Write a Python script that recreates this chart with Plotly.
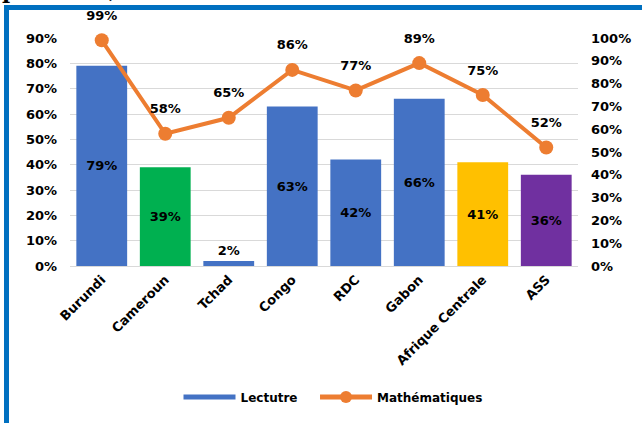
import plotly.graph_objects as go

# Data
pays = ['Burundi', 'Cameroun', 'Tchad', 'Congo', 'RDC', 'Gabon', 'Afrique Centrale', 'ASS']
lecture = [79, 39, 2, 63, 42, 66, 41, 36]
maths = [99, 58, 65, 86, 77, 89, 75, 52]
bar_colors = ['#4472C4', '#00B050', '#4472C4', '#4472C4', '#4472C4', '#4472C4', '#FFC000', '#7030A0']
bar_textpos = ['inside', 'inside', 'outside', 'inside', 'inside', 'inside', 'inside', 'inside']

W, H = 642, 423
L, R, T, B = 70, 64, 38, 157
pw, ph = W - L - R, H - T - B

def px(x):
    return (x - L) / pw

def py(y):
    return (H - B - y) / ph

bold = dict(family='DejaVu Sans', size=13, color='black', weight='bold')
bold12 = dict(family='DejaVu Sans', size=12, color='black', weight='bold')
nbsp = '\u00a0'

fig = go.Figure()

fig.add_trace(go.Bar(
    x=pays, y=lecture, name='Lectutre', showlegend=False,
    marker=dict(color=bar_colors, line=dict(width=0)),
    text=[f'{v}%' for v in lecture],
    textposition=bar_textpos,
    insidetextanchor='middle',
    textfont=bold, insidetextfont=bold, outsidetextfont=bold,
    textangle=0, cliponaxis=False,
    hoverinfo='skip', yaxis='y',
))

# legend entry for the bars (wide blue swatch)
fig.add_trace(go.Scatter(
    x=[None], y=[None], name='Lectutre' + nbsp * 3, mode='lines',
    line=dict(color='#4472C4', width=8), yaxis='y',
))

fig.add_trace(go.Scatter(
    x=pays, y=maths, name='Mathématiques',
    mode='lines+markers',
    line=dict(color='#ED7D31', width=4),
    marker=dict(color='#ED7D31', size=14),
    hoverinfo='skip', cliponaxis=False, yaxis='y2',
))

# value labels above the points (transparent markers push text up a bit)
fig.add_trace(go.Scatter(
    x=pays, y=maths, mode='markers+text', showlegend=False,
    marker=dict(size=26, opacity=0),
    text=[f'{v}%' for v in maths],
    textposition='top center', textfont=bold,
    hoverinfo='skip', cliponaxis=False, yaxis='y2',
))

fig.update_layout(
    width=W, height=H,
    margin=dict(l=L, r=R, t=T, b=B),
    paper_bgcolor='white', plot_bgcolor='white',
    font=bold,
    bargap=0.2,
    showlegend=True,
    legend=dict(orientation='h', x=px(333), xanchor='center', y=py(397), yanchor='middle',
                font=bold12, itemwidth=52, itemsizing='constant'),
    xaxis=dict(type='category', range=[-0.5, len(pays) - 0.5], tickangle=-45,
               showline=True, linecolor='#D9D9D9', linewidth=1,
               showgrid=False, ticks='', tickfont=bold),
    yaxis=dict(range=[0, 90], dtick=10, ticksuffix='%', gridcolor='#D9D9D9', gridwidth=1,
               zeroline=False, showline=False, tickfont=bold, ticklabelstandoff=12),
    yaxis2=dict(range=[0, 100], dtick=10, ticksuffix='%', overlaying='y', side='right',
                showgrid=False, zeroline=False, showline=False, tickfont=bold, ticklabelstandoff=12),
    shapes=[dict(type='rect', xref='paper', yref='paper',
                 x0=px(6.5), x1=px(720), y0=py(7.5), y1=py(520),
                 line=dict(color='#0070C0', width=5), layer='below')],
    annotations=[dict(text='primaire, 2022', xref='paper', yref='paper',
                      x=px(0), y=py(5.5), xanchor='left', yanchor='bottom', showarrow=False,
                      font=dict(family='DejaVu Serif', size=22, color='black', weight='bold'))],
)

# page body has a default margin; remove it so the figure sits at the window corner
fig.write_html('out.html', config={'displayModeBar': False},
               post_script="document.body.style.margin='0';")
